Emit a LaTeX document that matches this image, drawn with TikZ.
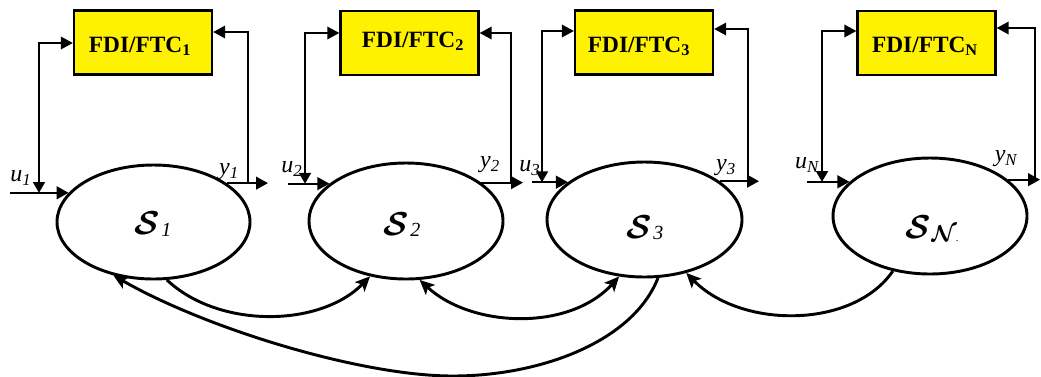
\documentclass[tikz,border=0pt]{standalone}
\usepackage{fontspec}
\setmainfont{Liberation Serif}
\usepackage{bm}
\usetikzlibrary{shapes.geometric,arrows.meta}
\begin{document}
\begin{tikzpicture}[x=0.75pt,y=-0.75pt,
  sysnode/.style={draw,ellipse,line width=2.2pt,inner sep=0pt},
  ctrl/.style={draw,line width=1.8pt,fill=yellow,minimum width=103.5pt,minimum height=48pt,inner sep=0pt},
  ctxt/.style={inner sep=0pt,font=\bfseries\fontsize{17.5}{20}\selectfont},
  fb/.style={line width=1.1pt,-{Triangle[length=9pt,width=9.5pt]}},
  fbb/.style={line width=1.1pt,{Triangle[length=8pt,width=9pt]}-{Triangle[length=9pt,width=9.5pt]}},
  io/.style={line width=1.6pt,-{Triangle[length=9pt,width=9.5pt]}},
  link/.style={line width=2.2pt,-{Stealth[length=11pt,width=10pt,inset=2.5pt]}},
  linkb/.style={line width=2.2pt,{Stealth[length=11pt,width=10pt,inset=2.5pt]}-{Stealth[length=11pt,width=10pt,inset=2.5pt]}},
  lab/.style={inner sep=0pt,font=\itshape\fontsize{18}{20}\selectfont},
  stxt/.style={inner sep=0pt,font=\fontsize{30}{32}\selectfont}
]
\useasboundingbox (0,0) rectangle (1041,376);

% systems
\node[sysnode,minimum width=144.75pt,minimum height=85.5pt] (e1) at (153.5,222) {};
\node[sysnode,minimum width=145.5pt,minimum height=87pt] (e2) at (406,221) {};
\node[sysnode,minimum width=146.25pt,minimum height=86.25pt] (e3) at (644.5,219.5) {};
\node[sysnode,minimum width=145.5pt,minimum height=87pt] (eN) at (930,216) {};

\node[stxt] (t1) at (153,224) {$\bm{\mathcal{S}}$\kern1pt\raisebox{-1pt}{\fontsize{15}{15}\selectfont\itshape 1}};
\node[stxt] (t2) at (402,224.5) {$\bm{\mathcal{S}}$\kern1pt\raisebox{-1pt}{\fontsize{15}{15}\selectfont\itshape 2}};
\node[stxt] (t3) at (645,228) {$\bm{\mathcal{S}}$\kern1pt\raisebox{-1pt}{\fontsize{15}{15}\selectfont\itshape 3}};
\node[stxt] (tN) at (932,229) {$\bm{\mathcal{S}}$\kern0.5pt\raisebox{-2pt}{\fontsize{17}{17}\selectfont$\bm{\mathcal{N}}$\kern-0.5pt\fontsize{8}{8}\selectfont.}};

% controllers
\node[ctrl] (b1) at (143,42.5) {};
\node[ctrl] (b2) at (409.5,43) {};
\node[ctrl] (b3) at (644,42.5) {};
\node[ctrl] (bN) at (926.5,43) {};
\node[ctxt] (c1) at (140,46) {FDI/FTC\textsubscript{1}};
\node[ctxt] (c2) at (413,41) {FDI/FTC\textsubscript{2}};
\node[ctxt] (c3) at (639,46.5) {FDI/FTC\textsubscript{3}};
\node[ctxt] (cN) at (925,46) {FDI/FTC\textsubscript{N}};

% helper coordinates
\coordinate (fl1) at (39,43);   \coordinate (fr1) at (248,32);
\coordinate (ui1) at (10,0);    \coordinate (yo1) at (268,0);
\coordinate (fl2) at (305,33);  \coordinate (fr2) at (511,33);
\coordinate (ui2) at (288,0);   \coordinate (yo2) at (523,0);
\coordinate (fl3) at (542,31);  \coordinate (fr3) at (748,29);
\coordinate (ui3) at (532,0);   \coordinate (yo3) at (759,0);
\coordinate (flN) at (822,31);  \coordinate (frN) at (1035,28);
\coordinate (uiN) at (807,0);   \coordinate (yoN) at (1040,0);

% system 1
\draw[io] (ui1 |- e1.161) -- (e1.161);
\draw[fbb] (e1.161 -| fl1) |- (b1.west |- fl1);
\draw[io] (e1.28) -- (e1.28 -| yo1);
\draw[fb] (e1.28 -| fr1) |- (b1.east |- fr1);
% system 2
\draw[io] (ui2 |- e2.154) -- (e2.154);
\draw[fbb] (e2.154 -| fl2) |- (b2.west |- fl2);
\draw[io] (e2.27) -- (e2.27 -| yo2);
\draw[fb] (e2.27 -| fr2) |- (b2.east |- fr2);
% system 3
\draw[io] (ui3 |- e3.154) -- (e3.154);
\draw[fbb] (e3.154 -| fl3) |- (b3.west |- fl3);
\draw[io] (e3.27) -- (e3.27 -| yo3);
\draw[fb] (e3.27 -| fr3) |- (b3.east |- fr3);
% system N
\draw[io] (uiN |- eN.157) -- (eN.157);
\draw[fbb] (eN.157 -| flN) |- (bN.west |- flN);
\draw[io] (eN.25) -- (eN.25 -| yoN);
\draw[fb] (eN.25 -| frN) |- (bN.east |- frN);

% labels
\node[lab] (lu1) at (21,178) {u\textsubscript{1}};
\node[lab] (ly1) at (229,172) {y\textsubscript{1}};
\node[lab] (lu2) at (292,169) {u\textsubscript{2}};
\node[lab] (ly2) at (490,165) {y\textsubscript{2}};
\node[lab] (lu3) at (530,168) {u\textsubscript{3}};
\node[lab] (ly3) at (726,168) {y\textsubscript{3}};
\node[lab] (luN) at (807,165) {u\textsubscript{N}};
\node[lab] (lyN) at (1006,159) {y\textsubscript{N}};

% interconnections
\draw[link] (e1.-77) .. controls +(52,49) and +(-50,51) .. (e2.237);
\draw[linkb] (e2.-77) .. controls +(52,48) and +(-50,55) .. (e3.246);
\draw[link] (e3.-77) .. controls +(-25,64) and (540,376) .. (453,376)
            .. controls (360,376) and (205,328) .. (e1.233);
\draw[link] (eN.236) .. controls +(-40,58) and +(55,56) .. (e3.-52);
\end{tikzpicture}
\end{document}
